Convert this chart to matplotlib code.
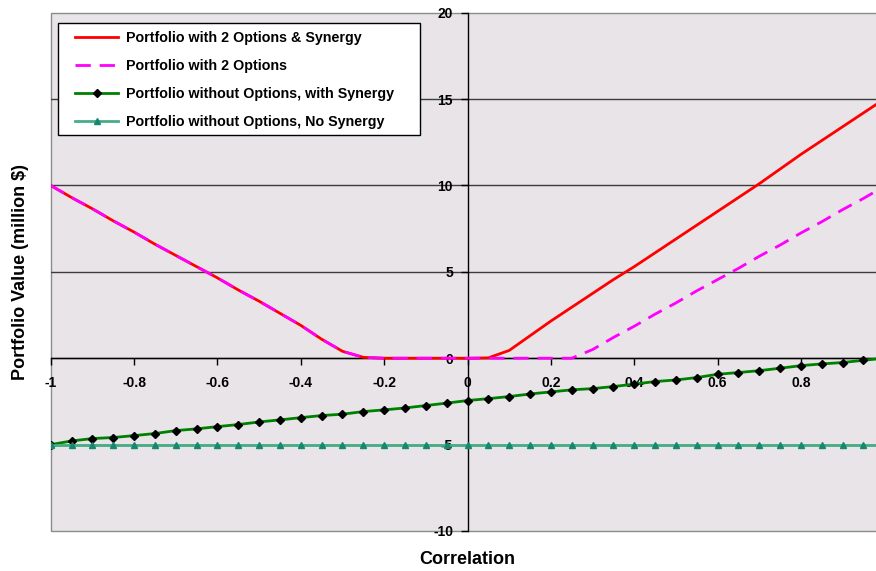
#!/usr/bin/env python3
"""
Portfolio value vs. correlation, with and without options / synergy.

Writes out.png (876x571).
"""
import matplotlib
matplotlib.use("Agg")
import matplotlib.pyplot as plt
from matplotlib.patches import Rectangle

# Correlation values (x categories)
correlation = [-1.00, -0.95, -0.90, -0.85, -0.80, -0.75, -0.70, -0.65, -0.60, -0.55,
               -0.50, -0.45, -0.40, -0.35, -0.30, -0.25, -0.20, -0.15, -0.10, -0.05,
               0.00, 0.05, 0.10, 0.15, 0.20, 0.25, 0.30, 0.35, 0.40, 0.45,
               0.50, 0.55, 0.60, 0.65, 0.70, 0.75, 0.80, 0.85, 0.90, 0.95, 1.00]

# Portfolio with 2 options & synergy
options_synergy = [10.0, 9.3, 8.65, 7.95, 7.3, 6.6, 5.95, 5.3, 4.65, 3.95,
                   3.3, 2.6, 1.9, 1.1, 0.4, 0.05, 0.0, 0.0, 0.0, 0.0,
                   0.0, 0.02, 0.45, 1.3, 2.15, 2.95, 3.75, 4.55, 5.3, 6.1,
                   6.9, 7.7, 8.5, 9.3, 10.1, 10.95, 11.8, 12.6, 13.4, 14.2, 15.0]

# Portfolio with 2 options (no synergy)
options_only = [10.0, 9.3, 8.65, 7.95, 7.3, 6.6, 5.95, 5.3, 4.65, 3.95,
                3.3, 2.6, 1.9, 1.1, 0.4, 0.05, 0.0, 0.0, 0.0, 0.0,
                0.0, 0.0, 0.0, 0.0, 0.0, 0.0, 0.5, 1.2, 1.85, 2.55,
                3.2, 3.9, 4.55, 5.2, 5.9, 6.55, 7.25, 7.9, 8.6, 9.25, 9.95]

# Portfolio without options, with synergy
no_options_synergy = [-5.0, -4.79, -4.65, -4.59, -4.48, -4.36, -4.19, -4.09, -3.96, -3.84,
                      -3.69, -3.57, -3.44, -3.32, -3.24, -3.09, -2.99, -2.88, -2.74, -2.6,
                      -2.45, -2.34, -2.22, -2.07, -1.95, -1.83, -1.76, -1.64, -1.5, -1.35,
                      -1.26, -1.12, -0.93, -0.83, -0.72, -0.58, -0.43, -0.33, -0.25, -0.12, 0.0]

# Portfolio without options, no synergy
no_options_no_synergy = [-5.0] * len(correlation)

series_labels = ["Portfolio with 2 Options & Synergy",
                 "Portfolio with 2 Options",
                 "Portfolio without Options, with Synergy",
                 "Portfolio without Options, No Synergy"]

# the "1" label falls off the right edge of the original picture
x_ticks = [-1.0, -0.8, -0.6, -0.4, -0.2, 0.0, 0.2, 0.4, 0.6, 0.8, 1.0]
x_tick_labels = ["-1", "-0.8", "-0.6", "-0.4", "-0.2", "0", "0.2", "0.4", "0.6", "0.8", ""]
y_ticks = [-10, -5, 0, 5, 10, 15, 20]
y_tick_labels = ["-10", "-5", "0", "5", "10", "15", "20"]


def main():
    plt.rcParams['font.family'] = ['Liberation Sans', 'DejaVu Sans']
    plt.rcParams['axes.unicode_minus'] = False

    fig = plt.figure(figsize=(8.76, 5.71), dpi=100)
    # plot area runs a little past the right edge, as in the original
    ax = fig.add_axes([0.0579, 0.0701, 0.9516, 0.9077])
    ax.set_facecolor('#E8E4E8')
    ax.patch.set_edgecolor('#8C8C8C')
    ax.patch.set_linewidth(1.0)

    ax.set_xlim(-1, 1)
    ax.set_ylim(-10, 20)

    # axes cross at the origin
    for side in ('top', 'right'):
        ax.spines[side].set_visible(False)
    ax.spines['left'].set_position(('data', 0))
    ax.spines['bottom'].set_position(('data', 0))
    for side in ('left', 'bottom'):
        ax.spines[side].set_color('black')
        ax.spines[side].set_linewidth(1.0)
        ax.spines[side].set_zorder(1.5)

    ax.set_xticks(x_ticks, x_tick_labels, fontweight='bold', fontsize=10)
    ax.set_yticks(y_ticks, y_tick_labels, fontweight='bold', fontsize=10)
    ax.tick_params(axis='x', direction='out', length=5, width=1, pad=7.5)
    ax.tick_params(axis='y', direction='out', length=5, width=1, pad=5.4)

    # horizontal gridlines (not on the frame edges)
    ax.set_axisbelow(True)
    ax.yaxis.grid(True, color='#3C3C3C', linewidth=1.0)
    for val, gl in zip(y_ticks, ax.yaxis.get_gridlines()):
        if val in (-10, 20):
            gl.set_visible(False)

    # series
    ax.plot(correlation, options_synergy, color='#FF0000', lw=2,
            label=series_labels[0], zorder=2)
    ax.plot(correlation, options_only, color='#FF00FF', lw=2,
            linestyle=(0, (5.5, 3.2)), label=series_labels[1], zorder=2.1)
    ax.plot(correlation, no_options_synergy, color='#008000', lw=2,
            marker='D', markersize=3.6, markerfacecolor='black',
            markeredgecolor='black', label=series_labels[2], zorder=2.2)
    ax.plot(correlation, no_options_no_synergy, color='#45AD88', lw=2,
            marker='^', markersize=5, markerfacecolor='#17876F',
            markeredgecolor='#17876F', label=series_labels[3], zorder=2.3)

    ax.set_xlabel('Correlation', fontsize=13, fontweight='bold')
    ax.xaxis.set_label_coords(0.5, -0.039)
    ax.set_ylabel('Portfolio Value (million $)', fontsize=13, fontweight='bold')
    ax.yaxis.set_label_coords(-0.0256, 0.5)

    # legend box drawn by hand so the padding can match
    frame = Rectangle((0.0084, 0.7640), 0.4346, 0.2161, transform=ax.transAxes,
                      facecolor='white', edgecolor='black', linewidth=1.0, zorder=4)
    ax.add_patch(frame)
    leg = ax.legend(loc='upper left', bbox_to_anchor=(0.0292, 0.964),
                    frameon=False, borderpad=0, borderaxespad=0,
                    prop={'size': 10.3, 'weight': 'bold'},
                    handlelength=3.0, handletextpad=0.56, labelspacing=0.97)
    leg.set_zorder(5)

    fig.savefig('out.png', dpi=100)
    plt.close(fig)


if __name__ == "__main__":
    main()
